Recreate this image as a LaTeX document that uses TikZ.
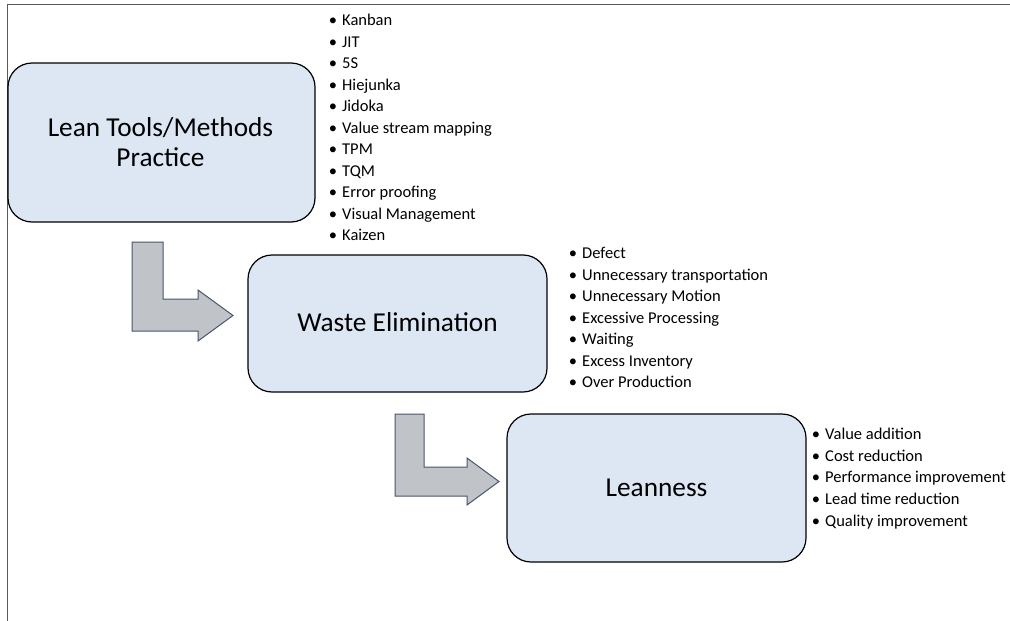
\documentclass[tikz,border=0pt]{standalone}
\usepackage{fontspec}
\setmainfont{Carlito}
\definecolor{boxfill}{RGB}{221,231,244}
\definecolor{arrowfill}{RGB}{192,195,200}
\definecolor{arrowline}{RGB}{72,86,108}
\definecolor{framecol}{RGB}{90,90,90}
\begin{document}
\begin{tikzpicture}[x=1pt,y=-1pt,
  box/.style={draw=black, line width=1.2pt, fill=boxfill, rounded corners=24pt, inner sep=0pt},
  boxtext/.style={font=\fontsize{27.3}{30}\selectfont, anchor=base, inner sep=0pt},
  item/.style={font=\fontsize{16.5}{20}\selectfont, anchor=base west, inner sep=0pt},
  bent/.style={draw=arrowline, fill=arrowfill, line width=1pt, line join=miter},
  frame/.style={draw=framecol, line width=1.8pt}]
\useasboundingbox (0,0) rectangle (1010,621);
% frame
\draw[frame] (7.5,621) -- (7.5,4.5) -- (1010,4.5);
% boxes
\node[box, minimum width=307pt, minimum height=159pt] (b1) at (161.5,142.5) {};
\node[boxtext] (t1a) at (160.5,136.7) {Lean Tools/Methods};
\node[boxtext] (t1b) at (160.5,166.7) {Practice};
\node[box, minimum width=299pt, minimum height=137pt] (b2) at (397.5,323.5) {};
\node[boxtext] (t2) at (397.5,331.5) {Waste Elimination};
\node[box, minimum width=299pt, minimum height=148pt] (b3) at (656.5,488) {};
\node[boxtext] (t3) at (656.5,496) {Leanness};
% bent arrows
\path[bent] (132,242) -- (163,242) -- (163,299) -- (198,299) -- (198,290) -- (233,315.5)
  -- (198,341) -- (198,331) -- (132,331) -- cycle;
\path[bent] (395,414) -- (424,414) -- (424,467) -- (467,467) -- (467,458) -- (499,481.5)
  -- (467,505) -- (467,496) -- (395,496) -- cycle;
% lists
\foreach \t [count=\i] in {Kanban, JIT, 5S, Hiejunka, Jidoka, Value stream mapping, TPM, TQM, Error proofing, Visual Management, Kaizen}
  \node[item] (la\i) at (342,{25.5+21.5*(\i-1)}) {\llap{•\hspace{5pt}}\t};
\foreach \t [count=\i] in {Defect, Unnecessary transportation, Unnecessary Motion, Excessive Processing, Waiting, Excess Inventory, Over Production}
  \node[item] (lb\i) at (582,{258.5+21.5*(\i-1)}) {\llap{•\hspace{5pt}}\t};
\foreach \t [count=\i] in {Value addition, Cost reduction, Performance improvement, Lead time reduction, Quality improvement}
  \node[item] (lc\i) at (825,{439.5+21.7*(\i-1)}) {\llap{•\hspace{5pt}}\t};
\end{tikzpicture}
\end{document}
